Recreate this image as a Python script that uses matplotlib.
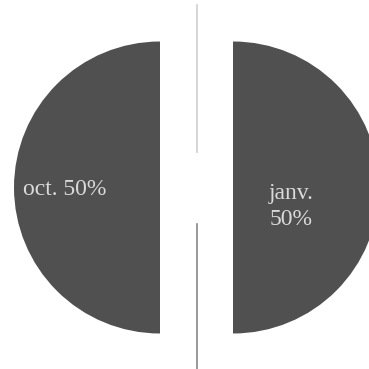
import matplotlib.pyplot as plt
import numpy as np

months = ['oct.', 'janv.']
shares = [50, 50]
label_text = ['oct. 50%', 'janv.\n50%']

W = 369
fig = plt.figure(figsize=(3.69, 3.69), dpi=100)
ax = fig.add_axes([0, 0, 1, 1])

cx, cy, r = 196.5, 181.5, 146
# explode is in data units here (offset of each wedge from the center)
wedges, _ = ax.pie(shares, radius=r, center=(cx, cy), startangle=90,
                   explode=[36.5, 36.5], colors=['#505050', '#505050'],
                   frame=True, wedgeprops=dict(linewidth=0))
ax.set_xlim(0, W)
ax.set_ylim(0, W)
ax.axis('off')

# labels placed relative to each wedge's flat edge
offsets = [(-0.65, -0.017), (0.40, -0.13)]
for w, txt, (dx, dy) in zip(wedges, label_text, offsets):
    ex, ey = w.center
    ax.text(ex + dx * r, ey + dy * r, txt, ha='center', va='center',
            color='#dadada', fontsize=17, family='Liberation Serif',
            linespacing=1.35)

# separator line
ax.plot([197, 197], [W - 5, W - 152], color='#d0d0d0', lw=1.2)
ax.plot([197, 197], [W - 224, 0], color='#888888', lw=1.2)

fig.savefig('out.png', dpi=100)
